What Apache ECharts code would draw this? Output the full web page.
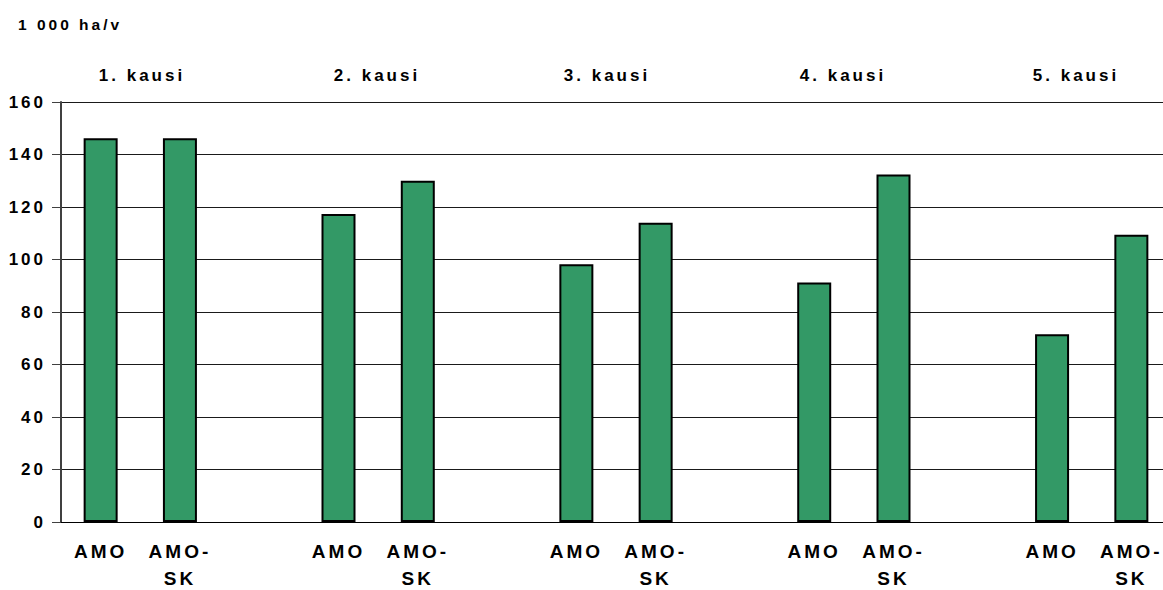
<!DOCTYPE html>
<html>
<head>
<meta charset="utf-8">
<script src="https://cdn.jsdelivr.net/npm/echarts@6/dist/echarts.min.js"></script>
<style>
  html, body { margin: 0; padding: 0; background: #ffffff; }
  #chart { width: 1163px; height: 590px; }
  #chart svg text { letter-spacing: 3px; }
</style>
</head>
<body>
<div id="chart"></div>
<script>
// Harvest volume per period, 1 000 ha per year
const seasons = ['1. kausi', '2. kausi', '3. kausi', '4. kausi', '5. kausi'];
const barNames = ['AMO', 'AMO-\nSK'];
const amo = [146.2, 117.3, 98.2, 91.2, 71.5];
const amoSk = [146.2, 130.0, 114.0, 132.4, 109.4];
const yTicks = [0, 20, 40, 60, 80, 100, 120, 140, 160];
const unitLabel = '1 000 ha/v';

// Period heading x-centres (px)
const seasonLabelX = [142, 377, 607, 843, 1076];

// Two bars per period with an empty slot between periods
const categories = [];
const values = [];
seasons.forEach(function (s, i) {
  categories.push(barNames[0]); values.push(amo[i]);
  categories.push(barNames[1]); values.push(amoSk[i]);
  if (i < seasons.length - 1) { categories.push(''); values.push('-'); }
});

const FONT = '"Liberation Sans", Arial, sans-serif';
const chart = echarts.init(document.getElementById('chart'), null, { renderer: 'svg' });

const graphics = [{
  type: 'text', x: 18, y: 24,
  style: { text: unitLabel, font: 'bold 15.5px ' + FONT, fill: '#000', align: 'left', verticalAlign: 'middle' }
}];
seasons.forEach(function (s, i) {
  graphics.push({
    type: 'text', x: seasonLabelX[i], y: 75,
    style: { text: s, font: 'bold 17px ' + FONT, fill: '#000', align: 'center', verticalAlign: 'middle' }
  });
});

chart.setOption({
  animation: false,
  backgroundColor: '#ffffff',
  grid: { left: 61, right: -8, top: 102, bottom: 68, containLabel: false, outerBoundsMode: 'none' },
  xAxis: {
    type: 'category',
    data: categories,
    axisLine: { lineStyle: { color: '#000', width: 1 } },
    axisTick: { show: false },
    axisLabel: {
      interval: 0, margin: 16, lineHeight: 27,
      fontFamily: FONT, fontWeight: 'bold', fontSize: 19, color: '#000'
    }
  },
  yAxis: {
    type: 'value',
    min: yTicks[0], max: yTicks[yTicks.length - 1], interval: 20,
    axisLine: { show: true, lineStyle: { color: '#404040', width: 2 } },
    axisTick: { show: true, length: 9, lineStyle: { color: '#404040', width: 1 } },
    splitLine: { lineStyle: { color: '#1a1a1a', width: 1 } },
    axisLabel: {
      margin: 15, fontFamily: FONT, fontWeight: 'bold', fontSize: 17, color: '#000'
    }
  },
  series: [{
    type: 'bar',
    data: values,
    barWidth: 34,
    itemStyle: { color: '#339966', borderColor: '#000', borderWidth: 2 }
  }],
  graphic: graphics
});
</script>
</body>
</html>
